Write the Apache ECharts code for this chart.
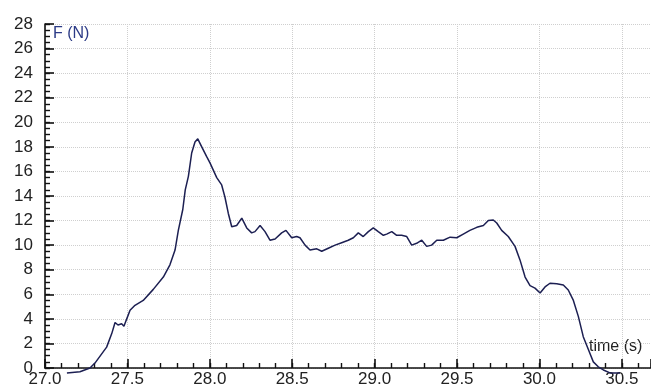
<!DOCTYPE html>
<html>
<head>
<meta charset="utf-8">
<script src="https://cdn.jsdelivr.net/npm/echarts@6/dist/echarts.min.js"></script>
<style>html,body{margin:0;padding:0;background:#fff}#c{width:651px;height:387px}</style>
</head>
<body>
<div id="c"></div>
<script>
var timeS = [27.133,27.212,27.273,27.303,27.374,27.405,27.425,27.443,27.465,27.479,27.496,27.516,27.546,27.596,27.657,27.718,27.758,27.789,27.809,27.836,27.851,27.870,27.890,27.910,27.927,27.951,27.981,28.001,28.042,28.072,28.092,28.112,28.133,28.163,28.194,28.224,28.254,28.274,28.305,28.335,28.365,28.396,28.436,28.462,28.497,28.527,28.547,28.578,28.608,28.649,28.679,28.719,28.760,28.800,28.840,28.871,28.901,28.931,28.962,28.992,29.022,29.053,29.073,29.104,29.134,29.164,29.195,29.225,29.255,29.286,29.316,29.346,29.377,29.417,29.458,29.498,29.538,29.578,29.620,29.660,29.690,29.720,29.741,29.771,29.811,29.852,29.882,29.913,29.943,29.973,30.004,30.034,30.064,30.105,30.145,30.175,30.206,30.236,30.266,30.297,30.327,30.357,30.388,30.428,30.489];
var forceN = [-0.4,-0.3,0.0,0.4,1.7,2.8,3.7,3.5,3.6,3.4,4.0,4.7,5.1,5.5,6.4,7.4,8.4,9.6,11.2,12.9,14.5,15.6,17.5,18.4,18.65,18.0,17.2,16.7,15.5,14.9,13.9,12.6,11.5,11.6,12.2,11.4,11.0,11.1,11.6,11.1,10.4,10.5,11.0,11.2,10.6,10.7,10.6,10.0,9.6,9.7,9.5,9.75,10.0,10.2,10.4,10.6,11.0,10.7,11.1,11.4,11.1,10.8,10.9,11.1,10.8,10.8,10.7,10.0,10.15,10.4,9.9,10.0,10.4,10.4,10.65,10.6,10.9,11.2,11.45,11.6,12.0,12.05,11.8,11.2,10.7,9.9,8.8,7.4,6.7,6.5,6.1,6.6,6.9,6.85,6.75,6.35,5.5,4.2,2.55,1.5,0.5,0.1,-0.16,-0.4,-0.4];
var xTicks = [27.0,27.5,28.0,28.5,29.0,29.5,30.0,30.5];
var yTicks = [0,2,4,6,8,10,12,14,16,18,20,22,24,26,28];

var points = timeS.map(function(t,i){return [t, forceN[i]];});
var chart = echarts.init(document.getElementById('c'), null, {renderer:'canvas'});
var font = 'Liberation Sans, Arial, sans-serif';
var xMin = xTicks[0], xMax = 30.677, yMin = yTicks[0], yMax = yTicks[yTicks.length-1];
var gridTop = 24, gridBottom = 19, H = 387;
chart.setOption({
  animation:false,
  backgroundColor:'#ffffff',
  grid:[
    {left:45, right:0, top:gridTop, bottom:gridBottom, containLabel:false, outerBoundsMode:'none'},
    {left:45, right:0, top:H - gridBottom, bottom:gridBottom - 1, containLabel:false, outerBoundsMode:'none'}
  ],
  xAxis:[{
    gridIndex:0, type:'value', position:'bottom', min:xMin, max:xMax, interval:0.5,
    axisLine:{show:true, onZero:false, lineStyle:{color:'#111', width:1.6}},
    axisTick:{show:false},
    axisLabel:{show:true, margin:3, fontSize:17, color:'#222', fontFamily:font,
      formatter:function(v){return xTicks.indexOf(Math.round(v*10)/10)>=0 ? v.toFixed(1) : '';}},
    splitLine:{show:true, lineStyle:{color:'#cfcfcf', type:'dotted', width:1}}
  },{
    gridIndex:1, type:'value', position:'top', min:xMin, max:xMax, interval:0.5,
    axisLine:{show:false, onZero:false},
    axisTick:{show:true, inside:false, length:9, lineStyle:{color:'#111', width:1.6}},
    axisLabel:{show:false},
    splitLine:{show:false}
  },{
    gridIndex:1, type:'value', position:'top', min:xMin, max:xMax, interval:0.1,
    axisLine:{show:false, onZero:false},
    axisTick:{show:true, inside:false, length:5, lineStyle:{color:'#111', width:1.4}},
    axisLabel:{show:false},
    splitLine:{show:false}
  }],
  yAxis:[{
    gridIndex:0, type:'value', position:'left', min:yMin, max:yMax, interval:2,
    axisLine:{show:true, onZero:false, lineStyle:{color:'#111', width:1.6}},
    axisTick:{show:true, inside:true, length:9, lineStyle:{color:'#111', width:1.6}},
    axisLabel:{show:true, margin:12, fontSize:17, color:'#222', fontFamily:font},
    splitLine:{show:true, lineStyle:{color:'#cfcfcf', type:'dotted', width:1}}
  },{
    gridIndex:0, type:'value', position:'left', min:yMin, max:yMax, interval:0.5,
    axisLine:{show:false, onZero:false},
    axisTick:{show:true, inside:true, length:5, lineStyle:{color:'#111', width:1.4}},
    axisLabel:{show:false},
    splitLine:{show:false}
  },{
    gridIndex:1, type:'value', min:0, max:1, show:false
  }],
  graphic:[
    {type:'text', left:53, top:26, style:{text:'F (N)', fontSize:16, fill:'#2b3a86', fontFamily:font}},
    {type:'text', left:589, top:339, style:{text:'time (s)', fontSize:16, fill:'#222', fontFamily:font}}
  ],
  series:[{
    type:'line', xAxisIndex:0, yAxisIndex:0, data:points, showSymbol:false, clip:false, smooth:false,
    lineStyle:{color:'#1c1f52', width:1.5}
  }]
});
</script>
</body>
</html>
